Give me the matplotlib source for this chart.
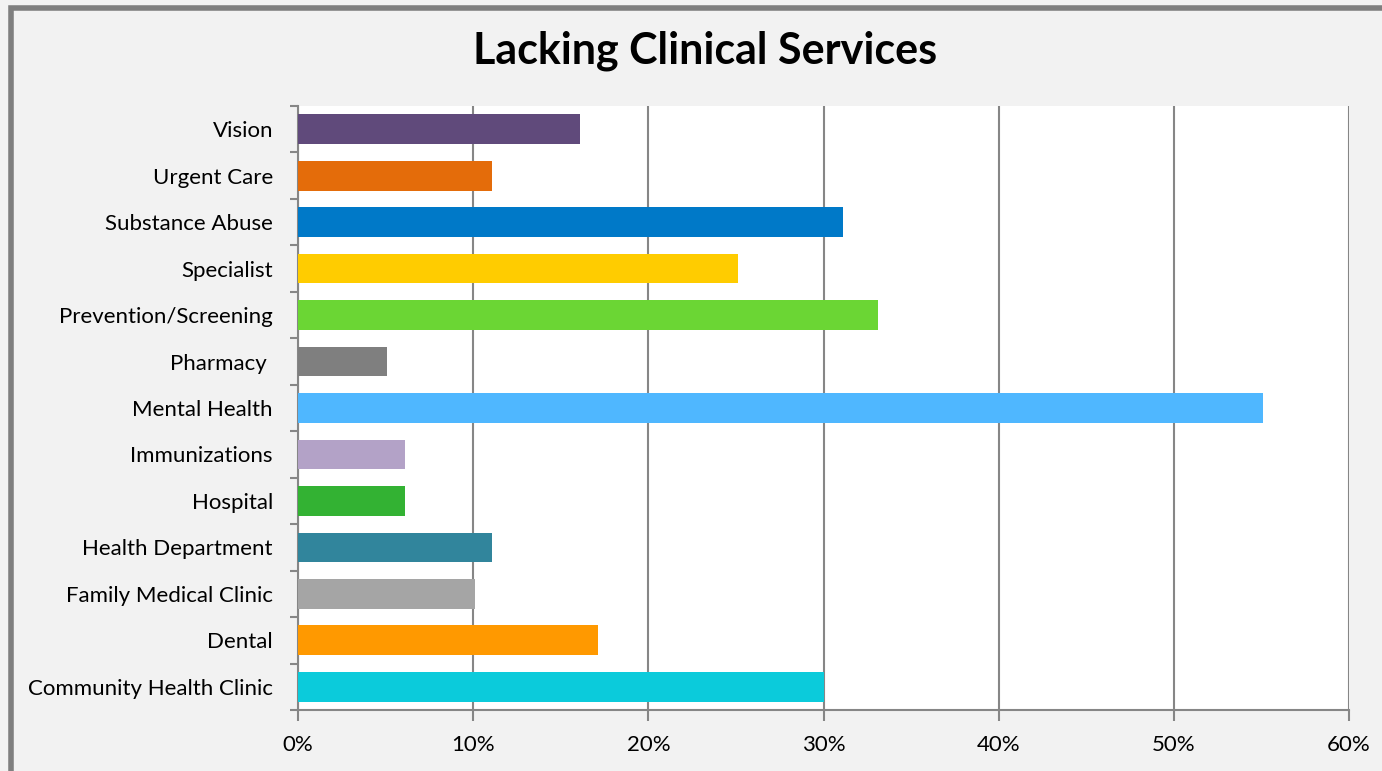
import matplotlib.pyplot as plt
import numpy as np
from matplotlib.patches import Rectangle
from matplotlib.ticker import FuncFormatter, MultipleLocator

# data (top to bottom as shown)
services = [
    "Vision",
    "Urgent Care",
    "Substance Abuse",
    "Specialist",
    "Prevention/Screening",
    "Pharmacy ",
    "Mental Health",
    "Immunizations",
    "Hospital",
    "Health Department",
    "Family Medical Clinic",
    "Dental",
    "Community Health Clinic",
]
pct_lacking = [16.1, 11.1, 31.1, 25.1, 33.1, 5.1, 55.1, 6.1, 6.1, 11.1, 10.1, 17.1, 30.0]
bar_colors = [
    "#604a7b", "#e46c0a", "#0079c8", "#ffcc00", "#6bd634", "#7f7f7f", "#4fb7ff",
    "#b3a2c7", "#33b233", "#31859c", "#a5a5a5", "#ff9900", "#0bcbdb",
]

plt.rcParams["font.family"] = ["Lato", "DejaVu Sans"]

fig = plt.figure(figsize=(13.82, 7.71), dpi=100, facecolor="#f2f2f2")
ax = fig.add_axes([298 / 1382, 1 - 710 / 771, (1349 - 298) / 1382, (710 - 106) / 771])
ax.set_facecolor("white")

y = np.arange(len(services))
ax.barh(y, pct_lacking, height=0.64, color=bar_colors, zorder=3)
ax.set_xlim(0, 60)
ax.set_ylim(len(services) - 0.5, -0.5)

# grid + axes styling
grid_col = "#868686"
ax.xaxis.set_major_locator(MultipleLocator(10))
ax.xaxis.set_major_formatter(FuncFormatter(lambda v, p: f"{v:.0f}%"))
ax.grid(axis="x", color=grid_col, linewidth=1.5, zorder=1)
for side in ["top", "right"]:
    ax.spines[side].set_visible(False)
for side in ["left", "bottom"]:
    ax.spines[side].set_color(grid_col)
    ax.spines[side].set_linewidth(1.5)

ax.set_yticks(y)
ax.set_yticklabels(services)
ax.set_yticks(np.arange(-0.5, len(services)), minor=True)
ax.tick_params(axis="y", which="major", length=0, pad=18, labelsize=16)
ax.tick_params(axis="y", which="minor", length=6, width=1.5, color=grid_col)
ax.tick_params(axis="x", length=8, width=1.5, color=grid_col, pad=10, labelsize=16)

fig.text(0.510, 0.934, "Lacking Clinical Services", ha="center", va="center",
         fontsize=31, fontweight="bold", color="black")

# outer chart border (left and top visible)
fig.patches.append(Rectangle((11 / 1382, -0.1), 1.2, 1 - 8 / 771 + 0.1, transform=fig.transFigure,
                             fill=False, edgecolor="#7f7f7f", linewidth=4))

fig.savefig("out.png", dpi=100, facecolor=fig.get_facecolor())
